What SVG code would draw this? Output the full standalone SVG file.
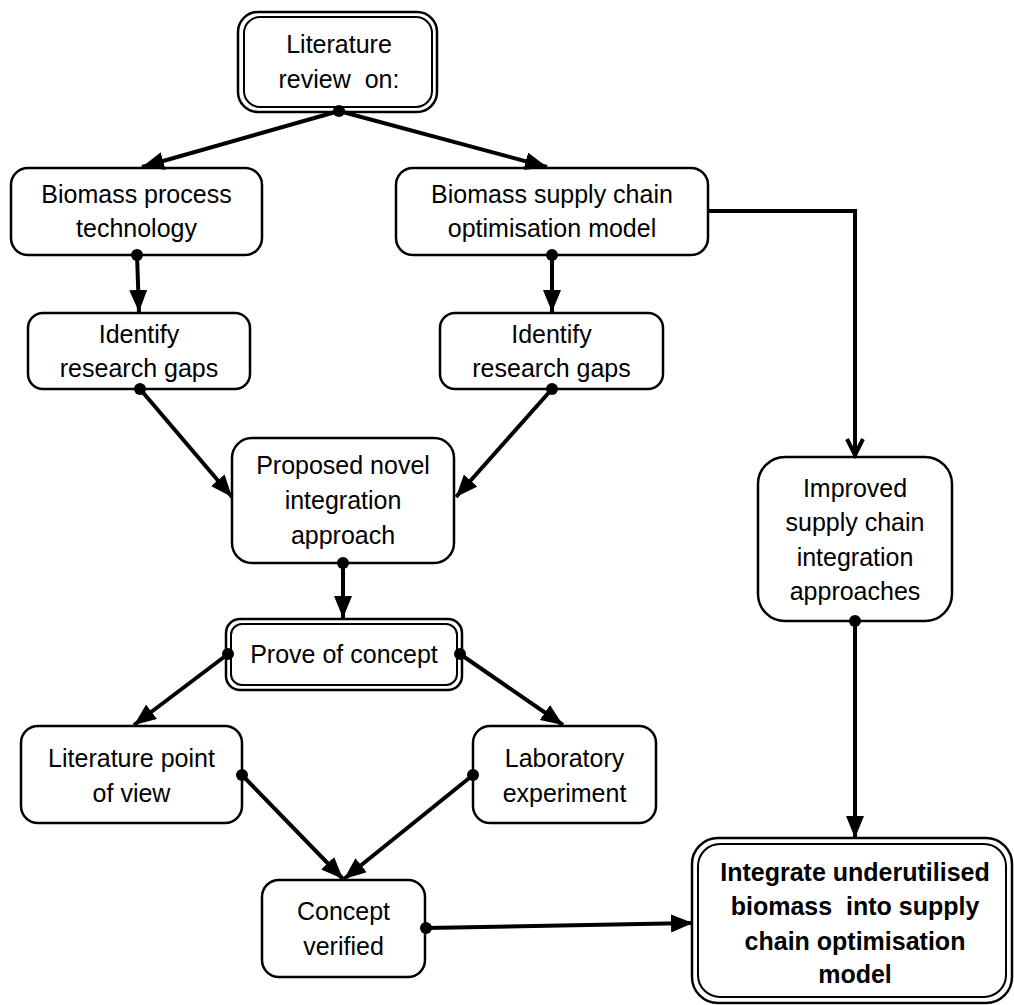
<svg xmlns="http://www.w3.org/2000/svg" width="1014" height="1005" viewBox="0 0 1014 1005">
<style>
.box{fill:#fff;stroke:#000;stroke-width:2.5}
.thin{fill:none;stroke:#000;stroke-width:2}
.t{font-family:"Liberation Sans",Arial,sans-serif;font-size:25px;fill:#000;text-anchor:middle}
.b{font-weight:bold}
.c{fill:none;stroke:#000;stroke-width:4}
.arr{marker-end:url(#ah)}
.dot{fill:#000}
</style>
<defs>
<marker id="ah" markerUnits="userSpaceOnUse" markerWidth="24" markerHeight="20" refX="22" refY="9" orient="auto">
<path d="M0,0 L22,9 L0,18 z" fill="#000"/>
</marker>
<marker id="oh" markerUnits="userSpaceOnUse" markerWidth="22" markerHeight="22" refX="18" refY="10" orient="auto">
<path d="M2,2 L18,10 L2,18" fill="none" stroke="#000" stroke-width="4"/>
</marker>
</defs>
<rect width="1014" height="1005" fill="#fff"/>
<g id="literature-review">
<rect class="box" x="238" y="12" width="199" height="100" rx="20"/>
<rect class="thin" x="244" y="17" width="188" height="90" rx="16"/>
<text class="t" x="339" y="53">Literature</text>
<text class="t" x="339" y="88" style="white-space:pre">review  on:</text>
</g>
<g id="biomass-process">
<rect class="box" x="11" y="168" width="251" height="87" rx="17"/>
<text class="t" x="136.5" y="203">Biomass process</text>
<text class="t" x="136.5" y="237">technology</text>
</g>
<g id="biomass-supply">
<rect class="box" x="396" y="168" width="312" height="87" rx="17"/>
<text class="t" x="552" y="203">Biomass supply chain</text>
<text class="t" x="552" y="237">optimisation model</text>
</g>
<g id="gaps-left">
<rect class="box" x="28" y="313" width="222" height="76" rx="15"/>
<text class="t" x="139" y="343">Identify</text>
<text class="t" x="139" y="377">research gaps</text>
</g>
<g id="gaps-right">
<rect class="box" x="440" y="313" width="223" height="76" rx="15"/>
<text class="t" x="551.5" y="343">Identify</text>
<text class="t" x="551.5" y="377">research gaps</text>
</g>
<g id="proposed">
<rect class="box" x="232" y="438" width="222" height="125" rx="20"/>
<text class="t" x="343" y="474">Proposed novel</text>
<text class="t" x="343" y="509">integration</text>
<text class="t" x="343" y="544">approach</text>
</g>
<g id="prove">
<rect class="box" x="226" y="619" width="236" height="71" rx="14"/>
<rect class="thin" x="231" y="624" width="226" height="61" rx="11"/>
<text class="t" x="344" y="663">Prove of concept</text>
</g>
<g id="lit-view">
<rect class="box" x="21" y="726" width="221" height="97" rx="17"/>
<text class="t" x="131.5" y="767">Literature point</text>
<text class="t" x="131.5" y="802">of view</text>
</g>
<g id="lab">
<rect class="box" x="473" y="726" width="183" height="97" rx="17"/>
<text class="t" x="564.5" y="767">Laboratory</text>
<text class="t" x="564.5" y="802">experiment</text>
</g>
<g id="verified">
<rect class="box" x="262" y="880" width="163" height="97" rx="17"/>
<text class="t" x="343.5" y="920">Concept</text>
<text class="t" x="343.5" y="955">verified</text>
</g>
<g id="improved">
<rect class="box" x="758" y="457" width="194" height="164" rx="27"/>
<text class="t" x="855" y="497">Improved</text>
<text class="t" x="855" y="531">supply chain</text>
<text class="t" x="855" y="566">integration</text>
<text class="t" x="855" y="600">approaches</text>
</g>
<g id="integrate">
<rect class="box" x="692" y="838" width="320" height="165" rx="26"/>
<rect class="thin" x="698" y="844" width="308" height="153" rx="22"/>
<text class="t b" x="855" y="881">Integrate underutilised</text>
<text class="t b" x="855" y="915" style="white-space:pre">biomass  into supply</text>
<text class="t b" x="855" y="950">chain optimisation</text>
<text class="t b" x="855" y="983">model</text>
</g>
<g id="connectors">
<line class="c arr" x1="339" y1="111" x2="142" y2="167"/>
<line class="c arr" x1="339" y1="111" x2="547" y2="167"/>
<line class="c arr" x1="137" y1="255" x2="139" y2="312"/>
<line class="c arr" x1="552" y1="255" x2="552" y2="312"/>
<polyline class="c" points="708,211 855,211 855,455" marker-end="url(#oh)"/>
<line class="c arr" x1="140" y1="389" x2="232" y2="497"/>
<line class="c arr" x1="552" y1="389" x2="456" y2="497"/>
<line class="c arr" x1="343" y1="563" x2="343" y2="618"/>
<line class="c arr" x1="228" y1="654" x2="134" y2="725"/>
<line class="c arr" x1="460" y1="654" x2="563" y2="725"/>
<line class="c arr" x1="242" y1="775" x2="343" y2="879"/>
<line class="c arr" x1="473" y1="775" x2="344" y2="879"/>
<line class="c arr" x1="426" y1="928" x2="693" y2="923"/>
<line class="c arr" x1="855" y1="621" x2="855" y2="838"/>
<circle class="dot" cx="339" cy="111" r="6"/>
<circle class="dot" cx="137" cy="255" r="6"/>
<circle class="dot" cx="552" cy="255" r="6"/>
<circle class="dot" cx="140" cy="389" r="6"/>
<circle class="dot" cx="552" cy="389" r="6"/>
<circle class="dot" cx="343" cy="563" r="6"/>
<circle class="dot" cx="228" cy="654" r="6"/>
<circle class="dot" cx="460" cy="654" r="6"/>
<circle class="dot" cx="242" cy="775" r="6"/>
<circle class="dot" cx="473" cy="775" r="6"/>
<circle class="dot" cx="426" cy="928" r="6"/>
<circle class="dot" cx="855" cy="621" r="6"/>
</g>
</svg>
